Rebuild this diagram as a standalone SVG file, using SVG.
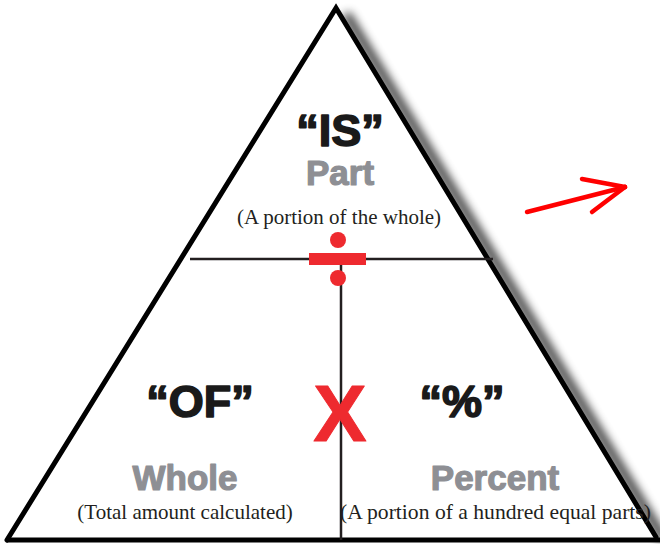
<svg xmlns="http://www.w3.org/2000/svg" width="660" height="544" viewBox="0 0 660 544">
<defs>
<filter id="blur" x="-20%" y="-20%" width="140%" height="140%"><feGaussianBlur stdDeviation="5"/></filter>
<style>
.heavy{font-family:"Liberation Sans",Arial,sans-serif;font-weight:900;text-anchor:middle;stroke-linejoin:round}
.blk{fill:#1a1a1a;stroke:#1a1a1a;stroke-width:1.6;font-size:45px}
.gray{fill:#8e8f94;stroke:#8e8f94;stroke-width:1.2;font-size:35px}
.serif{font-family:"Liberation Serif","Times New Roman",serif;font-size:21px;fill:#231f20}
.edge{stroke:#000;stroke-width:5;fill:none;stroke-linecap:round}
.inner{stroke:#231f20;stroke-width:2.5;fill:none}
.red{fill:#ee2a2f}
</style>
</defs>
<rect width="660" height="544" fill="#fff"/>
<g id="shadow">
<line x1="346" y1="14" x2="664" y2="540" stroke="#000" stroke-width="9" opacity="0.8" filter="url(#blur)"/>
</g>
<g id="triangle">
<polygon points="336,8 7,541 656,541" fill="#fff"/>
<polyline class="edge" points="7,540 336,8 656,537"/>
<line x1="7" y1="540" x2="660" y2="540" stroke="#000" stroke-width="5"/>
</g>
<g id="connectors">
<line class="inner" x1="190" y1="259" x2="493" y2="259"/>
<line class="inner" x1="341" y1="259" x2="341" y2="540"/>
</g>
<g id="node-is">
<text class="heavy blk" x="340" y="146">“IS”</text>
<text class="heavy gray" x="340" y="185">Part</text>
<text class="serif" x="339" y="224" text-anchor="middle">(A portion of the whole)</text>
</g>
<g id="node-divide">
<circle class="red" cx="338" cy="240" r="8"/>
<rect class="red" x="309" y="253" width="57" height="12"/>
<circle class="red" cx="338" cy="278" r="8"/>
</g>
<g id="node-times">
<text class="heavy red" x="340" y="441" font-size="80" stroke="#ee2a2f" stroke-width="1">X</text>
</g>
<g id="node-of">
<text class="heavy blk" x="200" y="417">“OF”</text>
<text class="heavy gray" x="185" y="490">Whole</text>
<text class="serif" x="185" y="519" text-anchor="middle">(Total amount calculated)</text>
</g>
<g id="node-percent">
<text class="heavy blk" x="462" y="417">“%”</text>
<text class="heavy gray" x="495" y="490">Percent</text>
<text class="serif" x="340" y="519" textLength="311" lengthAdjust="spacingAndGlyphs">(A portion of a hundred equal parts)</text>
</g>
<g id="arrow" stroke="#f00" stroke-width="4.5" stroke-linecap="round" fill="none">
<line x1="527" y1="212" x2="625" y2="187"/>
<line x1="582" y1="179" x2="625" y2="187"/>
<line x1="592" y1="212" x2="625" y2="187"/>
</g>
</svg>
